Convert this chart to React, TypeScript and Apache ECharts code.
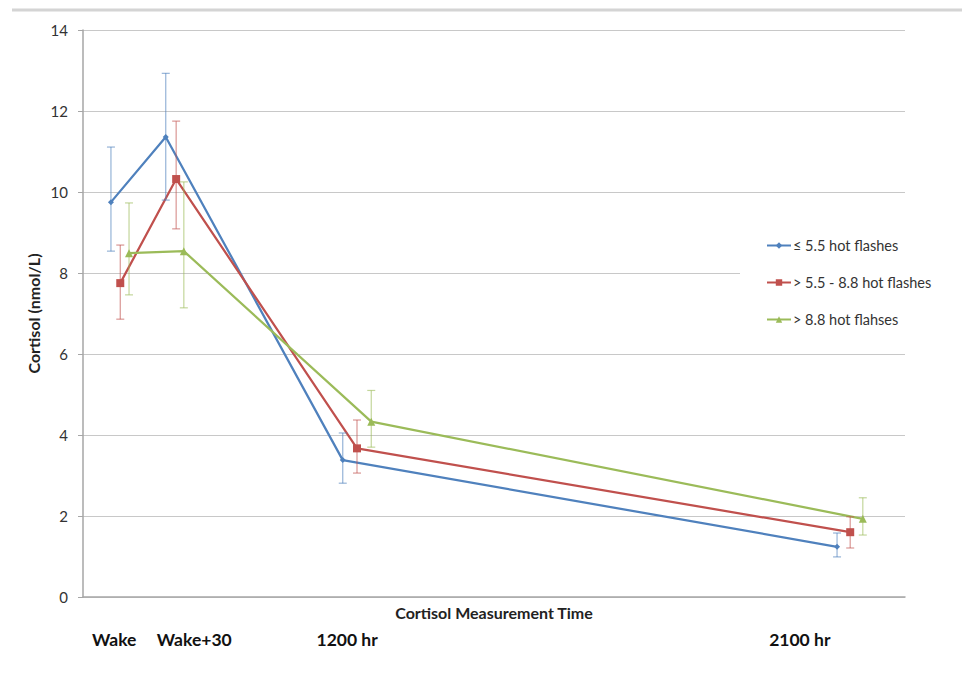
import React, { useEffect, useRef } from "react";
import * as echarts from "echarts";

// Data
const seriesNames = ["≤ 5.5 hot flashes", "> 5.5 - 8.8 hot flashes", "> 8.8 hot flahses"];
const timeLabels = ["Wake", "Wake+30", "1200 hr", "2100 hr"];
const timeLabelX = [0.57, 2.03, 4.82, 13.08];

const lowX = [0.51, 1.51, 4.74, 13.76];
const lowMean = [9.75, 11.36, 3.38, 1.24];
const lowLower = [8.54, 9.8, 2.81, 0.99];
const lowUpper = [11.11, 12.93, 4.05, 1.58];

const midX = [0.68, 1.7, 5.0, 14.0];
const midMean = [7.75, 10.32, 3.67, 1.6];
const midLower = [6.86, 9.09, 3.06, 1.21];
const midUpper = [8.69, 11.75, 4.37, 1.98];

const highX = [0.84, 1.84, 5.26, 14.23];
const highMean = [8.49, 8.54, 4.33, 1.93];
const highLower = [7.46, 7.14, 3.7, 1.53];
const highUpper = [9.73, 10.25, 5.1, 2.45];

const colors = ["#4F81BD", "#C0504D", "#9BBB59"];
const symbols = ["diamond", "rect", "triangle"];
const symbolSizes = [6, 8, 8];

const FONT = "Lato, 'Open Sans', sans-serif";

export default function App() {
  const ref = useRef<HTMLDivElement>(null);
  useEffect(() => {
    if (!ref.current) return;
    const chart = echarts.init(ref.current, undefined, { renderer: "svg" });
    const groups = [
      { x: lowX, m: lowMean, lo: lowLower, hi: lowUpper },
      { x: midX, m: midMean, lo: midLower, hi: midUpper },
      { x: highX, m: highMean, lo: highLower, hi: highUpper },
    ];
    const lineSeries: any[] = groups.map((g, i) => ({
      name: seriesNames[i],
      type: "line",
      data: g.x.map((x, j) => [x, g.m[j]]),
      symbol: symbols[i],
      symbolSize: symbolSizes[i],
      showSymbol: true,
      lineStyle: { color: colors[i], width: 2.25 },
      itemStyle: { color: colors[i] },
      z: 3,
    }));
    const errSeries: any[] = groups.map((g, i) => ({
      name: seriesNames[i] + " err",
      type: "custom",
      data: g.x.map((x, j) => [x, g.lo[j], g.hi[j]]),
      z: 4,
      renderItem: (params: any, api: any) => {
        const x = api.value(0);
        const p1 = api.coord([x, api.value(1)]);
        const p2 = api.coord([x, api.value(2)]);
        const cw = 4;
        const style = { stroke: colors[i], lineWidth: 1.2, opacity: 0.6 };
        return {
          type: "group",
          children: [
            { type: "line", shape: { x1: p1[0], y1: p1[1], x2: p2[0], y2: p2[1] }, style },
            { type: "line", shape: { x1: p1[0] - cw, y1: p1[1], x2: p1[0] + cw, y2: p1[1] }, style },
            { type: "line", shape: { x1: p2[0] - cw, y1: p2[1], x2: p2[0] + cw, y2: p2[1] }, style },
          ],
        };
      },
    }));

    chart.setOption({
      animation: false,
      backgroundColor: "#fff",
      textStyle: { fontFamily: FONT },
      grid: { left: 83, right: 57, top: 30, bottom: 84, containLabel: false },
      graphic: [
        {
          type: "line",
          shape: { x1: 12, y1: 10, x2: 962, y2: 10 },
          style: { stroke: "#d4d4d4", lineWidth: 3 },
        },
      ],
      legend: {
        data: seriesNames,
        orient: "vertical",
        left: 740,
        top: 228,
        padding: [10, 10, 10, 26],
        backgroundColor: "#fff",
        itemGap: 22,
        itemWidth: 24,
        itemHeight: 8,
        textStyle: { fontSize: 14.5, color: "#333", fontFamily: FONT, padding: [0, 0, 0, -3] },
      },
      xAxis: {
        type: "value",
        min: 0,
        max: 15,
        axisLine: { show: true, lineStyle: { color: "#a6a6a6", width: 1.5 } },
        axisTick: { show: false },
        splitLine: { show: false },
        axisLabel: {
          customValues: timeLabelX,
          margin: 33,
          fontSize: 17.5,
          fontWeight: "bold",
          color: "#111",
          formatter: (v: number) => {
            let best = 0;
            timeLabelX.forEach((t, k) => {
              if (Math.abs(t - v) < Math.abs(timeLabelX[best] - v)) best = k;
            });
            return timeLabels[best];
          },
        },
        name: "Cortisol Measurement Time",
        nameLocation: "middle",
        nameGap: 7,
        nameMoveOverlap: false,
        nameTextStyle: { fontSize: 16, fontWeight: "bold", color: "#222", verticalAlign: "top" },
      },
      yAxis: {
        type: "value",
        min: 0,
        max: 14,
        interval: 2,
        axisLine: { show: true, lineStyle: { color: "#a6a6a6", width: 1.5 } },
        axisTick: { show: true, length: 5, lineStyle: { color: "#a6a6a6" } },
        splitLine: { show: true, lineStyle: { color: "#c8c8c8", width: 1.2 } },
        axisLabel: { fontSize: 15, color: "#333", margin: 15 },
        name: "Cortisol (nmol/L)",
        nameLocation: "middle",
        nameGap: 50,
        nameRotate: 90,
        nameMoveOverlap: false,
        nameTextStyle: { fontSize: 16, fontWeight: "bold", color: "#222", verticalAlign: "middle" },
      },
      series: [...lineSeries, ...errSeries],
    });
    return () => chart.dispose();
  }, []);
  return <div ref={ref} style={{ width: 962, height: 681, position: "absolute", left: 0, top: 0 }} />;
}
